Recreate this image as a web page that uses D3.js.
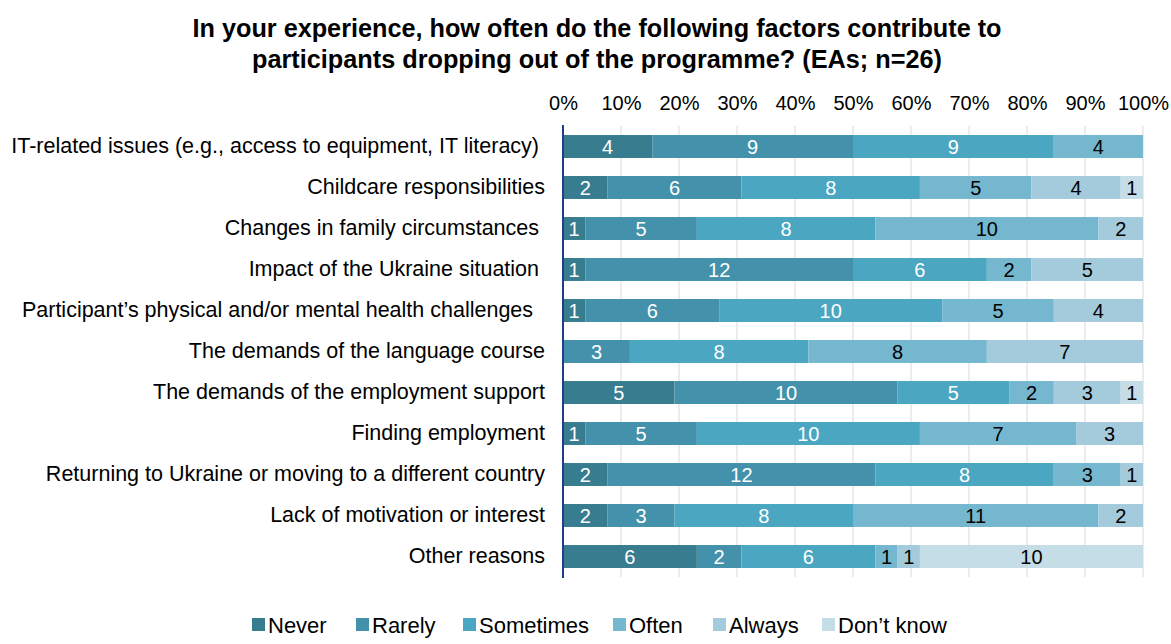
<!DOCTYPE html>
<html>
<head>
<meta charset="utf-8">
<script src="https://cdn.jsdelivr.net/npm/d3@7"></script>
<style>
  html, body { margin: 0; padding: 0; background: #fff; }
  svg { display: block; }
  text { font-family: "Liberation Sans", Arial, sans-serif; }
</style>
</head>
<body>
<svg id="chart" width="1171" height="644"></svg>
<script>
// Response categories (stack order, left to right)
const responses = ["Never", "Rarely", "Sometimes", "Often", "Always", "Don\u2019t know"];

// Factors asked about (top to bottom)
const factors = [
  "IT-related issues (e.g., access to equipment, IT literacy) ",
  "Childcare responsibilities",
  "Changes in family circumstances ",
  "Impact of the Ukraine situation ",
  "Participant\u2019s physical and/or mental health challenges  ",
  "The demands of the language course",
  "The demands of the employment support",
  "Finding employment",
  "Returning to Ukraine or moving to a different country",
  "Lack of motivation or interest",
  "Other reasons"
];

// Counts of EAs per response, one array per response, aligned with factors
const never     = [4, 2, 1, 1, 1, 0, 5, 1, 2, 2, 6];
const rarely    = [9, 6, 5, 12, 6, 3, 10, 5, 12, 3, 2];
const sometimes = [9, 8, 8, 6, 10, 8, 5, 10, 8, 8, 6];
const often     = [4, 5, 10, 2, 5, 8, 2, 7, 3, 11, 1];
const always    = [0, 4, 2, 5, 4, 7, 3, 3, 1, 2, 1];
const dontKnow  = [0, 1, 0, 0, 0, 0, 1, 0, 0, 0, 10];

const tickValues = [0, 0.1, 0.2, 0.3, 0.4, 0.5, 0.6, 0.7, 0.8, 0.9, 1];

const title = [
  "In your experience, how often do the following factors contribute to",
  "participants dropping out of the programme? (EAs; n=26)"
];

const colors = ["#377c8f", "#4391ab", "#4aa6c1", "#74b7cf", "#a4cbdc", "#c4dde6"];
const labelColors = ["#ffffff", "#ffffff", "#ffffff", "#000000", "#000000", "#000000"];

const rows = factors.map((f, i) => {
  const row = { factor: f };
  const vals = [never[i], rarely[i], sometimes[i], often[i], always[i], dontKnow[i]];
  const total = d3.sum(vals);
  responses.forEach((r, j) => { row[r] = vals[j] / total; row[r + "_n"] = vals[j]; });
  return row;
});

const svg = d3.select("#chart");
const margin = { left: 563, right: 28, top: 126, bottom: 67 };
const W = 1171, H = 644;

const x = d3.scaleLinear().domain([0, 1]).range([margin.left, W - margin.right]);
const y = d3.scaleBand().domain(factors).range([margin.top, H - margin.bottom])
  .paddingInner(0.44).paddingOuter(0.22);
const color = d3.scaleOrdinal().domain(responses).range(colors);

// Title: condensed bold heading, two centred lines
const titleWidths = [809, 690];
svg.append("g").selectAll("text").data(title).join("text")
  .attr("x", 597).attr("y", (d, i) => 37 + i * 31)
  .attr("text-anchor", "middle")
  .attr("font-size", 25).attr("font-weight", "bold").attr("fill", "#000")
  .attr("textLength", (d, i) => titleWidths[i])
  .attr("lengthAdjust", "spacingAndGlyphs")
  .text(d => d);

// Gridlines
svg.append("g").selectAll("line").data(tickValues.slice(1)).join("line")
  .attr("x1", d => x(d)).attr("x2", d => x(d))
  .attr("y1", margin.top).attr("y2", H - margin.bottom)
  .attr("stroke", "#d9d9d9").attr("stroke-width", 1);

// Top percentage axis
const xAxis = d3.axisTop(x).tickValues(tickValues).tickFormat(d3.format(".0%")).tickSize(0).tickPadding(0);
const gx = svg.append("g").attr("transform", `translate(0,${110})`).call(xAxis);
gx.select(".domain").remove();
gx.selectAll("text").attr("font-size", 20).attr("fill", "#000")
  .attr("font-family", "Liberation Sans, Arial, sans-serif");

// Stacked bars
const series = d3.stack().keys(responses)(rows);
const layer = svg.append("g").selectAll("g").data(series).join("g")
  .attr("fill", d => color(d.key));
layer.selectAll("rect").data(d => d.map(p => ({ p, key: d.key }))).join("rect")
  .attr("x", d => x(d.p[0]))
  .attr("y", d => y(d.p.data.factor))
  .attr("width", d => x(d.p[1]) - x(d.p[0]))
  .attr("height", y.bandwidth());

// Value labels
const labels = svg.append("g");
series.forEach((s, j) => {
  labels.selectAll(null).data(s.filter(p => p.data[s.key + "_n"] > 0)).join("text")
    .attr("x", p => (x(p[0]) + x(p[1])) / 2)
    .attr("y", p => y(p.data.factor) + y.bandwidth() / 2)
    .attr("dy", "0.36em")
    .attr("text-anchor", "middle")
    .attr("font-size", 20)
    .attr("fill", labelColors[j])
    .text(p => p.data[s.key + "_n"]);
});

// Category axis
const yAxis = d3.axisLeft(y).tickSize(0).tickPadding(18);
const gy = svg.append("g").attr("transform", `translate(${margin.left},0)`).call(yAxis);
gy.select(".domain").remove();
gy.selectAll("text").attr("font-size", 21.5).attr("fill", "#000")
  .attr("font-family", "Liberation Sans, Arial, sans-serif")
  .style("white-space", "pre");

// Left axis line
svg.append("line")
  .attr("x1", margin.left).attr("x2", margin.left)
  .attr("y1", margin.top - 1).attr("y2", H - margin.bottom + 1)
  .attr("stroke", "#1f3c88").attr("stroke-width", 2);

// Legend
const legendX = [252, 356, 463, 613, 713, 822];
const legend = svg.append("g").selectAll("g").data(responses).join("g")
  .attr("transform", (d, i) => `translate(${legendX[i]},${625})`);
legend.append("rect").attr("x", 0).attr("y", -7).attr("width", 13).attr("height", 13)
  .attr("fill", d => color(d));
legend.append("text")
  .attr("x", 16).attr("dy", "0.36em").attr("font-size", 22).attr("fill", "#000")
  .text(d => d);
</script>
</body>
</html>
